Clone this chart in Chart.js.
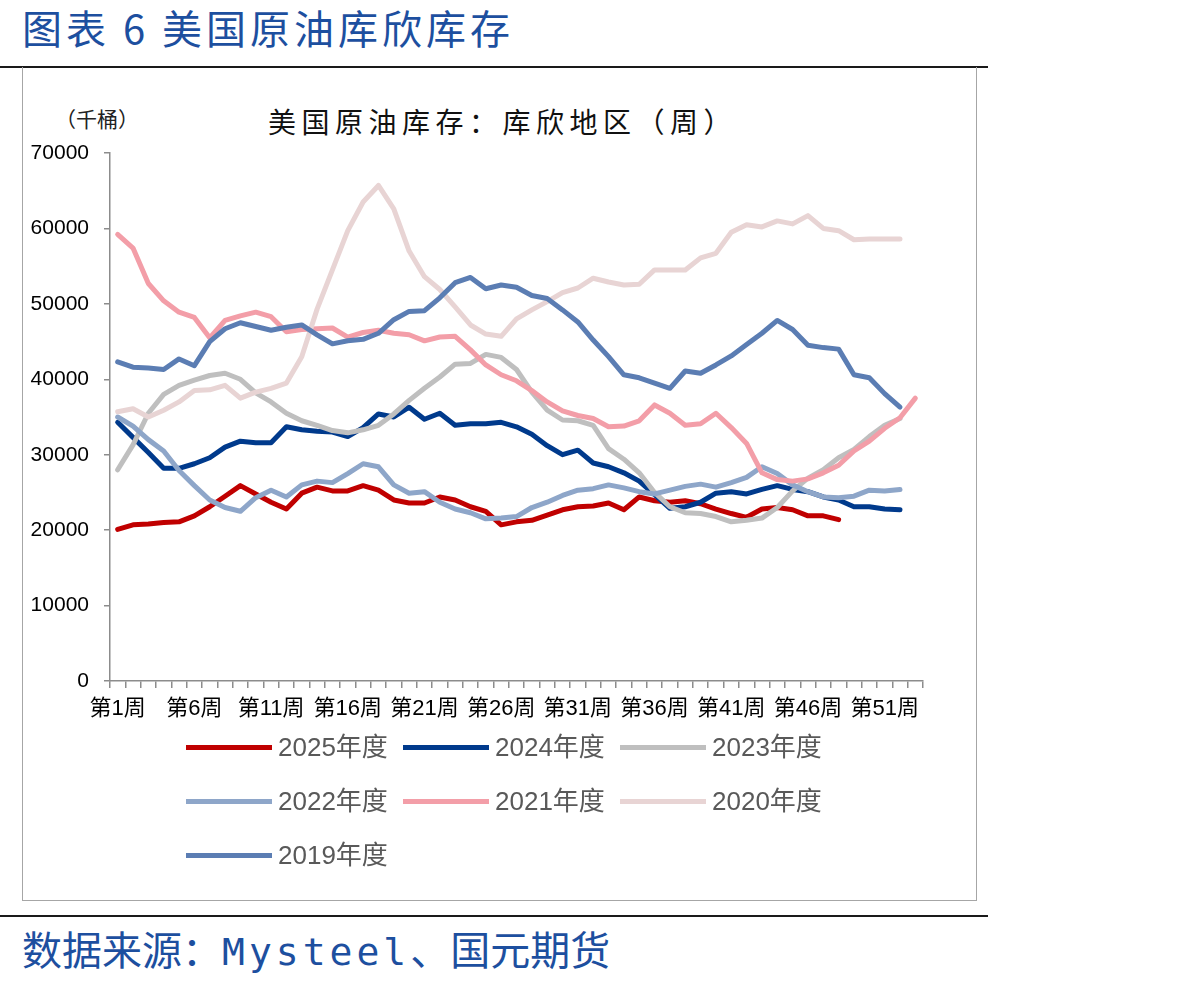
<!DOCTYPE html>
<html>
<head>
<meta charset="utf-8">
<script src="https://cdn.jsdelivr.net/npm/chart.js@4.4.0/dist/chart.umd.min.js"></script>
<style>
body { margin:0; width:1202px; height:984px; background:#fff; position:relative; overflow:hidden; font-family:'Noto Sans CJK SC', sans-serif; }
.abs { position:absolute; white-space:nowrap; }
#title { left:22px; top:2px; font-size:40px; line-height:50px; color:#1d4f9f; letter-spacing:4px; }
#rule1 { left:0; top:66px; width:988px; height:2px; background:#1a1a1a; }
#frame { left:22px; top:67px; width:955px; height:834px; border:1px solid #a6a6a6; border-top:none; box-sizing:border-box; }
#rule2 { left:0; top:915px; width:988px; height:2px; background:#1a1a1a; }
#source { left:22px; top:923px; font-size:40px; line-height:50px; color:#1d4f9f; }
#source .mono { font-family:'DejaVu Sans Mono', monospace; font-size:38px; letter-spacing:4px; }
#chartTitle { left:268px; top:103px; font-size:28px; line-height:36px; letter-spacing:5.5px; color:#111; }
#unit { left:55px; top:105px; font-size:21px; line-height:26px; color:#222; }
#c { position:absolute; left:22px; top:67px; }
.leg { position:absolute; height:30px; width:210px; }
.leg .ln { position:absolute; left:0; top:12px; width:86px; height:5px; }
.leg .tx { position:absolute; left:92px; top:-3px; font-size:26px; line-height:34px; color:#595959; font-family:'Liberation Sans','Noto Sans CJK SC'; white-space:nowrap; }
</style>
</head>
<body>
<div id="title" class="abs">图表 6 美国原油库欣库存</div>
<div id="rule1" class="abs"></div>
<div id="frame" class="abs"></div>
<div id="unit" class="abs">（千桶）</div>
<div id="chartTitle" class="abs">美国原油库存：库欣地区（周）</div>
<canvas id="c" width="955" height="833"></canvas>
<div id="legend"></div>
<div id="rule2" class="abs"></div>
<div id="source" class="abs">数据来源：<span class="mono">Mysteel</span>、国元期货</div>
<script>
// 周标签 第1周 ... 第53周
var weekLabels = [];
for (var w = 1; w <= 53; w++) weekLabels.push('第' + w + '周');

var seriesNames = ['2025年度', '2024年度', '2023年度', '2022年度', '2021年度', '2020年度', '2019年度'];
var seriesColors = ['#c00000', '#003a8c', '#bfbfbf', '#8ea6c9', '#f39ea8', '#e8d4d4', '#5b7db3'];

var s2025 = [20100, 20700, 20800, 21000, 21100, 21900, 23100, 24500, 25900, 24800,
    23700, 22800, 24900, 25700, 25200, 25200, 25900, 25300, 24000, 23600,
    23600, 24400, 24000, 23100, 22500, 20700, 21100, 21300, 22000, 22700,
    23100, 23200, 23600, 22700, 24400, 23900, 23700, 23900, 23500, 22800,
    22200, 21700, 22800, 23000, 22700, 21900, 21900, 21400];

var s2024 = [34300, 32300, 30300, 28200, 28200, 28800, 29600, 31000, 31800, 31600,
    31600, 33700, 33300, 33100, 33000, 32400, 33600, 35400, 35000, 36300,
    34700, 35500, 33900, 34100, 34100, 34300, 33700, 32700, 31200, 30000,
    30600, 28900, 28400, 27600, 26500, 24700, 22900, 23100, 23700, 24900,
    25100, 24800, 25400, 25900, 25400, 25100, 24400, 24000, 23100, 23100,
    22800, 22700];

var s2023 = [28000, 31300, 35500, 38000, 39200, 39900, 40500, 40800, 40000, 38200,
    37000, 35500, 34500, 33900, 33200, 32900, 33300, 33900, 35400, 37200,
    38800, 40300, 42000, 42100, 43300, 42900, 41300, 38300, 35900, 34600,
    34500, 33900, 30800, 29400, 27600, 25000, 23100, 22300, 22200, 21800,
    21100, 21300, 21600, 23000, 25200, 26900, 28000, 29600, 30700, 32400,
    33900, 34800];

var s2022 = [35000, 33800, 32000, 30500, 27900, 25900, 24000, 23000, 22500, 24300,
    25300, 24400, 26000, 26500, 26300, 27500, 28800, 28400, 26000, 24900,
    25100, 23700, 22800, 22300, 21500, 21600, 21800, 23000, 23700, 24600,
    25300, 25500, 26000, 25600, 25100, 24800, 25300, 25800, 26100, 25700,
    26300, 27000, 28400, 27500, 26000, 25100, 24400, 24300, 24500, 25300,
    25200, 25400];

var s2021 = [59200, 57400, 52700, 50400, 48900, 48200, 45500, 47800, 48400, 48900,
    48300, 46300, 46600, 46700, 46800, 45600, 46200, 46500, 46100, 45900,
    45100, 45600, 45700, 43900, 41900, 40600, 39800, 38500, 37000, 35800,
    35200, 34800, 33700, 33800, 34500, 36600, 35500, 33900, 34100, 35500,
    33600, 31500, 27600, 26700, 26500, 26800, 27600, 28600, 30500, 31800,
    33500, 34900, 37500];

var s2020 = [35700, 36100, 35000, 35900, 37000, 38500, 38600, 39200, 37500, 38300,
    38800, 39500, 43000, 49300, 54500, 59700, 63500, 65700, 62600, 57000,
    53600, 51900, 49600, 47200, 46000, 45700, 48000, 49200, 50300, 51500,
    52100, 53400, 52900, 52500, 52600, 54500, 54500, 54500, 56100, 56700,
    59500, 60500, 60200, 61000, 60600, 61700, 60000, 59700, 58500, 58600,
    58600, 58600];

var s2019 = [42300, 41600, 41500, 41300, 42700, 41800, 45000, 46700, 47500, 47000,
    46500, 46900, 47200, 45900, 44700, 45100, 45300, 46100, 47900, 49000,
    49100, 50800, 52800, 53500, 52000, 52500, 52200, 51100, 50700, 49200,
    47600, 45200, 43000, 40600, 40200, 39500, 38800, 41100, 40800, 41900,
    43100, 44600, 46100, 47800, 46600, 44500, 44200, 44000, 40600, 40200,
    38100, 36300];

var seriesData = [s2025, s2024, s2023, s2022, s2021, s2020, s2019];

var axisColor = '#8c8c8c';
var tickFont = "'Liberation Sans', 'Noto Sans CJK SC', sans-serif";

var datasets = seriesNames.map(function (name, i) {
    return {
        label: name,
        data: seriesData[i],
        borderColor: seriesColors[i],
        backgroundColor: seriesColors[i],
        borderWidth: 5,
        pointRadius: 0,
        tension: 0,
        fill: false,
        borderJoinStyle: 'round',
        borderCapStyle: 'round',
        order: seriesNames.length - 1 - i // 后面的系列画在上层
    };
});

new Chart(document.getElementById('c').getContext('2d'), {
    type: 'line',
    data: { labels: weekLabels, datasets: datasets },
    options: {
        responsive: false,
        animation: false,
        events: [],
        layout: { padding: { left: 0, right: 54, top: 86, bottom: 169 } },
        plugins: { legend: { display: false }, tooltip: { enabled: false } },
        scales: {
            x: {
                offset: true,
                grid: { offset: true, drawOnChartArea: false, drawTicks: true, tickLength: 7, color: axisColor, lineWidth: 1.5 },
                border: { color: axisColor, width: 1.5 },
                ticks: {
                    autoSkip: false, maxRotation: 0, minRotation: 0, padding: 8, color: '#000',
                    font: { family: tickFont, size: 22 },
                    callback: function (v, i) { return i % 5 === 0 ? weekLabels[i] : ''; }
                },
                afterFit: function (s) { s.height = 50; }
            },
            y: {
                min: 0, max: 70000,
                grid: { drawOnChartArea: false, drawTicks: true, tickLength: 6, color: axisColor, lineWidth: 1.5 },
                border: { color: axisColor, width: 1.5 },
                ticks: {
                    stepSize: 10000, padding: 15, color: '#000',
                    font: { family: tickFont, size: 21 },
                    callback: function (v) { return String(v); }
                },
                afterFit: function (s) { s.width = 88; }
            }
        }
    }
});

// 图例：三列
var legendDiv = document.getElementById('legend');
var colX = [186, 403, 620];
var rowY = [733, 787, 841];
seriesNames.forEach(function (name, i) {
    var item = document.createElement('div');
    item.className = 'leg';
    item.style.left = colX[i % 3] + 'px';
    item.style.top = rowY[Math.floor(i / 3)] + 'px';
    item.innerHTML = '<span class="ln" style="background:' + seriesColors[i] + '"></span><span class="tx">' + name + '</span>';
    legendDiv.appendChild(item);
});
</script>
</body>
</html>
